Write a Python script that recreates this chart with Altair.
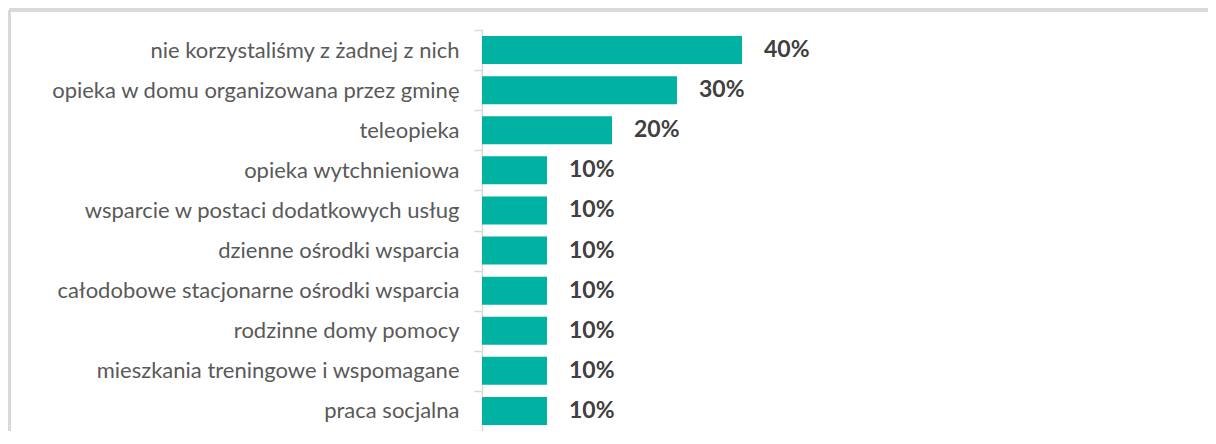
import altair as alt
import pandas as pd

categories = [
    "nie korzystaliśmy z żadnej z nich",
    "opieka w domu organizowana przez gminę",
    "teleopieka",
    "opieka wytchnieniowa",
    "wsparcie w postaci dodatkowych usług",
    "dzienne ośrodki wsparcia",
    "całodobowe stacjonarne ośrodki wsparcia",
    "rodzinne domy pomocy",
    "mieszkania treningowe i wspomagane",
    "praca socjalna",
]
values = [40, 30, 20, 10, 10, 10, 10, 10, 10, 10]

df = pd.DataFrame({"kategoria": categories, "wartosc": values})
df["etykieta"] = [f"{v}%" for v in values]

W, H = 726, 401
FONT = "Lato"

y_enc = alt.Y(
    "kategoria:N",
    sort=categories,
    title=None,
    scale=alt.Scale(paddingInner=0, paddingOuter=0),
    axis=alt.Axis(
        labelFont=FONT,
        labelFontSize=22,
        labelColor="#595959",
        labelPadding=15,
        tickSize=8,
        tickColor="#d9d9d9",
        tickWidth=1.5,
        domainColor="#d9d9d9",
        domainWidth=1.5,
        tickBand="extent",
        labelLimit=0,
    ),
)
x_enc = alt.X(
    "wartosc:Q",
    scale=alt.Scale(domain=[0, W / 6.5], nice=False, zero=True),
    axis=None,
)

bars = alt.Chart(df).mark_bar(size=28, color="#00B2A2").encode(y=y_enc, x=x_enc)

labels = alt.Chart(df).mark_text(
    align="left", baseline="middle", dx=22, font=FONT, fontSize=23,
    fontWeight="bold", color="#404040"
).encode(y=alt.Y("kategoria:N", sort=categories), x="wartosc:Q", text="etykieta:N")

frame_top = alt.Chart(df).mark_rule(color="#d9d9d9", strokeWidth=3).encode(
    x=alt.value(-472.5), x2=alt.value(W + 10), y=alt.value(-20)
)
frame_left = alt.Chart(df).mark_rule(color="#d9d9d9", strokeWidth=3).encode(
    x=alt.value(-472.5), y=alt.value(-20), y2=alt.value(H + 20)
)

chart = alt.layer(frame_top, frame_left, bars, labels).properties(
    width=W,
    height=H,
    autosize=alt.AutoSizeParams(type="none"),
    padding={"left": 474, "top": 22, "right": 0, "bottom": 0},
).configure_view(stroke=None)

chart.save("out.html", embed_options={"renderer": "svg", "actions": False})
